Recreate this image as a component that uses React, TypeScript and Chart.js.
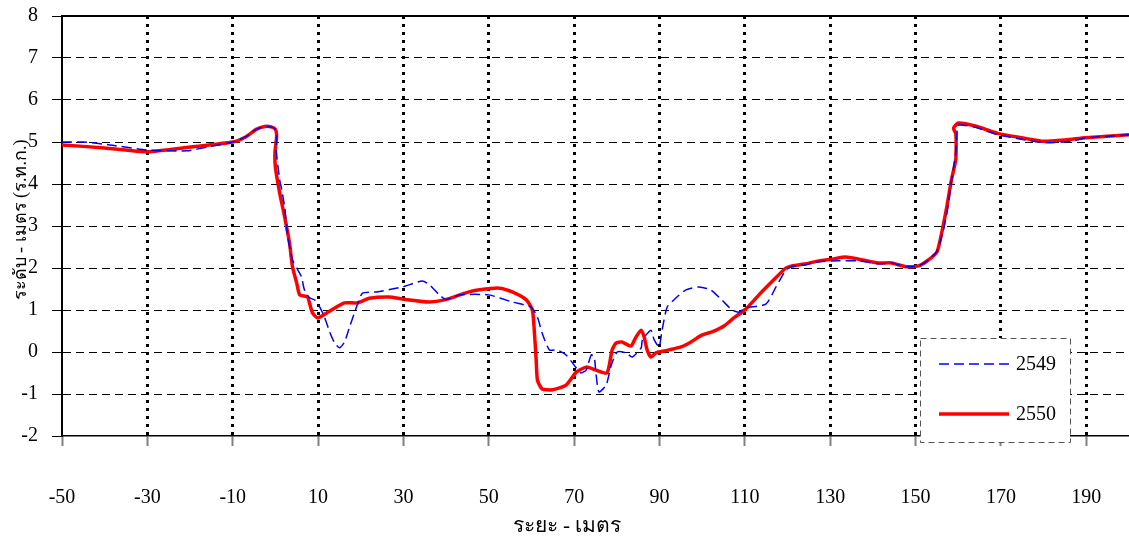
import React, { useEffect, useRef } from "react";
import { Chart, registerables } from "chart.js";

Chart.register(...registerables);

const seriesLabels = ["2549", "2550"];

const x2549 = [
  -50, -45, -38.8, -30.1, -20.8, -16, -10, -7, -4.5, -2.5, -1, 0, 0.3, 0.2, 1.0, 1.5, 2.2, 2.9, 4.0, 5.0,
  6.1, 6.8, 8.0, 9.2, 10.4, 11.5, 12.7, 13.9, 15.0, 16.2, 17.4, 19, 20.4, 23.7, 29.8, 34.4, 36.1, 38.4, 40, 43.1,
  50, 55.5, 59.9, 61.4, 62.5, 64.2, 66, 68.1, 70.5, 71.6, 72.8, 74, 74.7, 75.1, 75.8, 77.5, 78.7, 80.1, 82.2, 83.6,
  85.7, 86, 88, 88.7, 89.9, 90.6, 91.8, 93.9, 96.2, 99.2, 102, 104.6, 107, 108.6, 110.2, 114.9, 117.3, 119.6, 121, 124.3,
  127.3, 132, 136.7, 141.3, 144.4, 147.7, 150.7, 153, 155, 156.5, 157.5, 158.2, 159.4, 159.7, 160, 164, 169.4, 175.7, 180.4, 186.5,
  190, 200,
];
const y2549 = [
  5.0, 5.0, 4.93, 4.81, 4.79, 4.88, 5.0, 5.12, 5.3, 5.37, 5.36, 5.3, 5.1, 4.8, 4.1, 3.86, 3.43, 2.74, 2.19, 2.0,
  1.79, 1.48, 1.29, 1.24, 1.07, 0.83, 0.48, 0.21, 0.1, 0.24, 0.6, 1.07, 1.4, 1.43, 1.55, 1.69, 1.6, 1.36, 1.25, 1.36,
  1.36, 1.19, 1.07, 0.83, 0.45, 0.05, 0.05, -0.07, -0.38, -0.5, -0.43, -0.07, -0.12, -0.5, -0.95, -0.79, -0.31, 0, -0.02, -0.12,
  0.1, 0.29, 0.52, 0.3, 0.12, 0.52, 1.07, 1.29, 1.48, 1.55, 1.48, 1.24, 1.0, 0.95, 1.05, 1.14, 1.55, 1.95, 2.03, 2.08,
  2.15, 2.17, 2.17, 2.1, 2.12, 2.03, 2.05, 2.19, 2.4, 2.9, 3.4, 3.93, 4.74, 5.2, 5.4, 5.35, 5.17, 5.05, 4.98, 5.02,
  5.1, 5.17,
];

const x2550 = [
  -50, -40, -30, -20, -10, -7, -4.5, -2.5, -1, 0, 0.3, -0.1, 0.0, 1.0, 2.2, 3.3, 4.0, 5.0, 5.7, 7.5,
  8.0, 8.7, 9.9, 12, 14.3, 16.2, 19.2, 22, 26.7, 29.8, 36, 39.6, 45, 47.8, 52.5, 55.5, 58.8, 60.2, 60.6, 61.1,
  61.4, 62.5, 64.9, 68.1, 70.5, 72.8, 75.1, 77.7, 78.9, 79.8, 81.2, 83.3, 84.5, 85.7, 86.4, 87.1, 88, 89.2, 89.9, 92.2,
  95, 97.4, 99.9, 102.3, 105.1, 107.4, 110.2, 113.3, 116.3, 119.6, 121, 124.3, 127.3, 130.4, 133.6, 136.7, 141.3, 144.4, 147.7, 150.7,
  153, 155, 156.1, 157.3, 158.4, 159.4, 159.5, 159.4, 158.9, 160, 164, 169.4, 174.8, 179.5, 185.1, 189.8, 200,
];
const y2550 = [
  4.93, 4.86, 4.77, 4.88, 5.0, 5.12, 5.3, 5.37, 5.36, 5.3, 5.15, 4.75, 4.4, 3.79, 3.2, 2.6, 2.03, 1.64, 1.36, 1.31,
  1.16, 0.93, 0.81, 0.93, 1.07, 1.17, 1.17, 1.28, 1.31, 1.26, 1.19, 1.24, 1.42, 1.48, 1.52, 1.43, 1.24, 1.0, 0.6, -0.19,
  -0.67, -0.88, -0.9, -0.79, -0.48, -0.36, -0.43, -0.5, 0.05, 0.21, 0.24, 0.14, 0.36, 0.52, 0.36, 0.05, -0.12, -0.02, 0, 0.05,
  0.12, 0.24, 0.4, 0.48, 0.62, 0.81, 1.02, 1.36, 1.67, 2.0, 2.05, 2.1, 2.17, 2.21, 2.26, 2.21, 2.12, 2.12, 2.03, 2.05,
  2.19, 2.38, 2.83, 3.45, 4.1, 4.57, 4.97, 5.2, 5.33, 5.45, 5.38, 5.2, 5.1, 5.02, 5.05, 5.1, 5.17,
];

const xTicks = [-50, -30, -10, 10, 30, 50, 70, 90, 110, 130, 150, 170, 190];
const yTicks = [-2, -1, 0, 1, 2, 3, 4, 5, 6, 7, 8];
const xTitle = "ระยะ - เมตร";
const yTitle = "ระดับ - เมตร (ร.ท.ก.)";

const FONT = "'Liberation Serif', 'Times New Roman', serif";
const THAI_FONT = "'Liberation Serif', 'DejaVu Sans', 'Noto Sans', sans-serif";

const toPoints = (xs: number[], ys: number[]) => xs.map((x, i) => ({ x, y: ys[i] }));

const decorPlugin = {
  id: "decor",
  afterDraw(chart: any) {
    const { ctx, chartArea } = chart;
    ctx.save();
    // top frame line
    ctx.strokeStyle = "#000";
    ctx.lineWidth = 2;
    ctx.beginPath();
    ctx.moveTo(chartArea.left, chartArea.top);
    ctx.lineTo(chartArea.right, chartArea.top);
    ctx.stroke();

    // legend box
    const lx = 920, ly = 338, lw = 150, lh = 104;
    ctx.fillStyle = "#fff";
    ctx.fillRect(lx, ly, lw, lh);
    ctx.setLineDash([6, 4]);
    ctx.strokeStyle = "#555";
    ctx.lineWidth = 1;
    ctx.strokeRect(lx + 0.5, ly + 0.5, lw, lh);

    const ds = chart.data.datasets;
    const rows = [364, 414];
    ds.forEach((d: any, i: number) => {
      ctx.setLineDash(d.borderDash || []);
      ctx.strokeStyle = d.borderColor;
      ctx.lineWidth = d.borderWidth;
      ctx.beginPath();
      ctx.moveTo(939, rows[i]);
      ctx.lineTo(1009, rows[i]);
      ctx.stroke();
      ctx.setLineDash([]);
      ctx.fillStyle = "#000";
      ctx.font = `20px ${FONT}`;
      ctx.textAlign = "left";
      ctx.textBaseline = "middle";
      ctx.fillText(d.label, 1016, rows[i] + 1);
    });

    // axis titles
    ctx.setLineDash([]);
    ctx.fillStyle = "#000";
    ctx.textAlign = "center";
    ctx.textBaseline = "middle";
    ctx.font = `21px ${THAI_FONT}`;
    ctx.fillText(xTitle, 567, 526);
    ctx.font = `18px ${THAI_FONT}`;
    ctx.translate(21, 220);
    ctx.rotate(-Math.PI / 2);
    ctx.fillText(yTitle, 0, 0);
    ctx.restore();
  },
};

export default function App() {
  const ref = useRef<HTMLCanvasElement | null>(null);

  useEffect(() => {
    if (!ref.current) return;
    const chart = new Chart(ref.current, {
      type: "scatter",
      data: {
        datasets: [
          {
            label: seriesLabels[0],
            data: toPoints(x2549, y2549),
            showLine: true,
            borderColor: "#0000FF",
            borderWidth: 1.5,
            borderDash: [10, 5],
            pointRadius: 0,
            tension: 0.2,
          },
          {
            label: seriesLabels[1],
            data: toPoints(x2550, y2550),
            showLine: true,
            borderColor: "#FF0000",
            borderWidth: 3.5,
            pointRadius: 0,
            tension: 0.2,
          },
        ],
      },
      options: {
        animation: false,
        responsive: false,
        devicePixelRatio: 1,
        layout: { padding: { top: 16, left: 0, right: 0, bottom: 0 } },
        plugins: { legend: { display: false }, tooltip: { enabled: false } },
        scales: {
          x: {
            type: "linear",
            min: -50,
            max: 200,
            afterBuildTicks: (scale: any) => {
              scale.ticks = xTicks.map((value) => ({ value }));
            },
            afterFit: (scale: any) => {
              scale.height = 101;
              scale.paddingLeft = 0;
              scale.paddingRight = 0;
            },
            ticks: {
              font: { family: FONT, size: 20 },
              color: "#000",
              padding: 40,
              maxRotation: 0,
              autoSkip: false,
            },
            grid: {
              color: (c: any) => (c.tick && c.tick.value === -50 ? "rgba(0,0,0,0)" : "#000"),
              lineWidth: 3,
              tickColor: "#808080",
              tickWidth: 2,
              tickLength: 10,
            },
            border: { display: true, color: "#000", width: 1.5, dash: [3, 5] },
          },
          y: {
            type: "linear",
            min: -2,
            max: 8,
            afterBuildTicks: (scale: any) => {
              scale.ticks = yTicks.map((value) => ({ value }));
            },
            afterFit: (scale: any) => {
              scale.width = 62;
              scale.paddingTop = 0;
              scale.paddingBottom = 0;
            },
            ticks: {
              font: { family: FONT, size: 20 },
              color: "#000",
              padding: 14,
            },
            grid: {
              color: (c: any) =>
                c.tick && (c.tick.value === -2 || c.tick.value === 8) ? "rgba(0,0,0,0)" : "#000",
              lineWidth: 1,
              tickColor: "#000",
              tickWidth: 1,
              tickLength: 10,
            },
            border: { display: true, color: "#000", width: 2, dash: [8, 5] },
          },
        },
      },
      plugins: [decorPlugin],
    });
    return () => chart.destroy();
  }, []);

  return (
    <div style={{ position: "absolute", left: 0, top: 0, width: 1129, height: 537, background: "#fff" }}>
      <canvas ref={ref} width={1129} height={537} />
    </div>
  );
}
